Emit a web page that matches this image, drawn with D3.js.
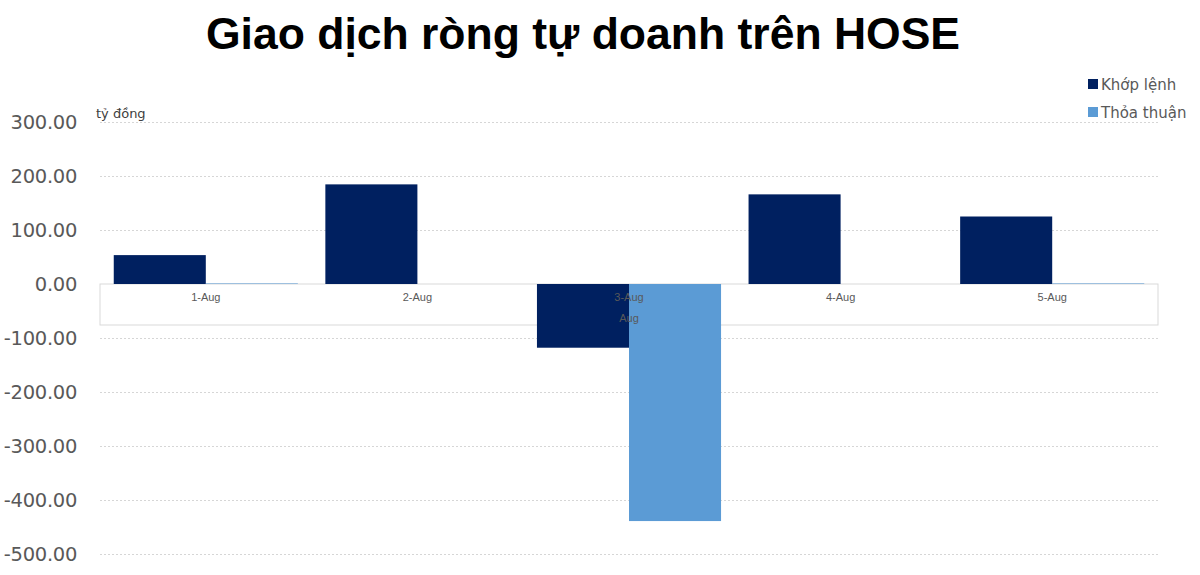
<!doctype html>
<html>
<head>
	<meta charset="utf-8">
	<script src="https://d3js.org/d3.v7.min.js"></script>
	<style>
		body { margin: 0; background: #fff; }
	</style>
</head>
<body>
	<div id="viz">
		<svg style="width:1200px;height:575px;"></svg>
	</div>
	<script>
		var categories = ["1-Aug", "2-Aug", "3-Aug", "4-Aug", "5-Aug"];
		var seriesNames = ["Khớp lệnh", "Thỏa thuận"];
		var khopLenh = [53.5, 184.5, -118, 166, 125];
		var thoaThuan = [1, 0, -439, 0, 1];
		var yTicks = [300, 200, 100, 0, -100, -200, -300, -400, -500];

		dataViz()
		function dataViz() {
			var colors = ["#002060", "#5b9bd5"];
			var left = 100, right = 1158;
			var svg = d3.select("svg");

			var xScale = d3.scaleBand()
				.domain(categories)
				.range([left, right])
				.paddingInner(0.13)
				.paddingOuter(0.065);

			var xInner = d3.scaleBand()
				.domain(seriesNames)
				.range([0, xScale.bandwidth()]);

			var yScale = d3.scaleLinear()
				.domain([-500, 300])
				.range([554, 122]);

			// plain hyphen for negatives, like the original
			var fmt = d3.formatLocale({decimal: ".", thousands: ",", grouping: [3], currency: ["", ""], minus: "-"}).format(".2f");

			// title
			svg.append("text")
				.attr("x", 583)
				.attr("y", 49)
				.attr("text-anchor", "middle")
				.style("font-family", "Liberation Sans, Arial, sans-serif")
				.style("font-weight", "bold")
				.style("font-size", "44.5px")
				.style("fill", "#000")
				.text("Giao dịch ròng tự doanh trên HOSE");

			// gridlines
			var yGrid = d3.axisLeft(yScale)
				.tickValues(yTicks)
				.tickSize(-(right - left))
				.tickFormat("");
			svg.append("g")
				.attr("transform", "translate(" + left + ",0)")
				.call(yGrid)
				.call(g => g.select(".domain").remove())
				.call(g => g.selectAll("line")
					.attr("stroke", "#d6d6d6")
					.attr("stroke-dasharray", "2,2"));

			// y tick labels
			var yAxis = d3.axisLeft(yScale)
				.tickValues(yTicks)
				.tickSize(0)
				.tickPadding(0)
				.tickFormat(fmt);
			svg.append("g")
				.attr("transform", "translate(77,0)")
				.call(yAxis)
				.call(g => g.select(".domain").remove())
				.call(g => g.selectAll("text")
					.style("font-family", "DejaVu Sans, sans-serif")
					.style("font-size", "19.5px")
					.style("letter-spacing", "-0.3px")
					.style("fill", "#595959"));

			// category axis box
			svg.append("rect")
				.attr("x", left)
				.attr("y", yScale(0))
				.attr("width", right - left)
				.attr("height", 41)
				.attr("fill", "#fff")
				.attr("stroke", "#d9d9d9");

			// bars
			var groups = svg.append("g")
				.selectAll("g")
				.data(categories)
				.enter()
				.append("g")
					.attr("transform", d => "translate(" + xScale(d) + ",0)");

			groups.selectAll("rect")
				.data((d, i) => [
					{name: seriesNames[0], value: khopLenh[i]},
					{name: seriesNames[1], value: thoaThuan[i]}
				])
				.enter()
				.append("rect")
					.attr("x", d => xInner(d.name))
					.attr("y", d => yScale(Math.max(0, d.value)))
					.attr("width", xInner.bandwidth())
					.attr("height", d => Math.abs(yScale(d.value) - yScale(0)))
					.attr("fill", (d, i) => colors[i]);

			// category labels
			var xAxis = d3.axisBottom(xScale).tickSize(0).tickPadding(9);
			svg.append("g")
				.attr("transform", "translate(0," + yScale(0) + ")")
				.call(xAxis)
				.call(g => g.select(".domain").remove())
				.call(g => g.selectAll("text")
					.style("font-family", "Liberation Sans, Arial, sans-serif")
					.style("font-size", "11px")
					.style("fill", "#595959"));

			svg.append("text")
				.attr("x", xScale("3-Aug") + xScale.bandwidth() / 2)
				.attr("y", 322)
				.attr("text-anchor", "middle")
				.style("font-family", "Liberation Sans, Arial, sans-serif")
				.style("font-size", "11px")
				.style("fill", "#595959")
				.text("Aug");

			// unit label
			svg.append("text")
				.attr("x", 96)
				.attr("y", 118)
				.style("font-family", "DejaVu Sans, sans-serif")
				.style("font-size", "13px")
				.style("fill", "#404040")
				.text("tỷ đồng");

			// legend
			var legend = svg.append("g")
				.selectAll("g")
				.data(seriesNames)
				.enter()
				.append("g")
					.attr("transform", (d, i) => "translate(1088," + (79 + i * 28) + ")");
			legend.append("rect")
				.attr("width", 10)
				.attr("height", 10)
				.attr("fill", (d, i) => colors[i]);
			legend.append("text")
				.attr("x", 13)
				.attr("y", 11)
				.style("font-family", "DejaVu Sans, sans-serif")
				.style("font-size", "15px")
				.style("fill", "#595959")
				.text(d => d);
		}
	</script>
</body>
</html>
